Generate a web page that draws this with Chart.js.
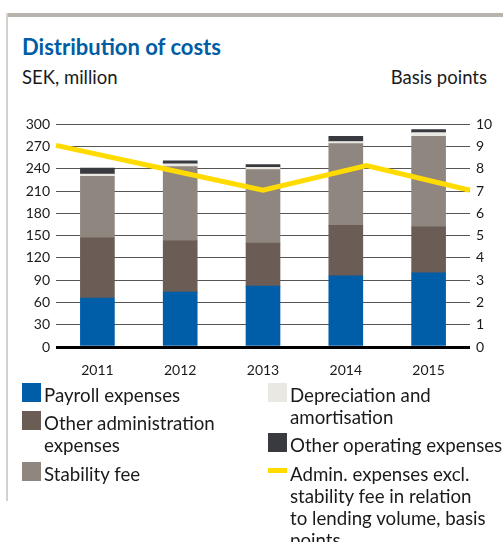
<!DOCTYPE html>
<html>
<head>
<meta charset="utf-8">
<script src="https://cdn.jsdelivr.net/npm/chart.js@4.4.1/dist/chart.umd.min.js"></script>
<style>
  html, body { margin: 0; padding: 0; background: #fff; }
  body { width: 503px; height: 542px; position: relative; overflow: hidden; font-family: Lato, "Open Sans", sans-serif; color: #1a1a1a; }
  .topbar { position: absolute; left: 7px; top: 13px; width: 496px; height: 4px; background: #b8b3ad; }
  .leftbar { position: absolute; left: 6px; top: 13px; width: 2px; height: 488px; background: #d4d0cb; }
  .title { position: absolute; left: 22px; top: 33px; font-size: 22px; font-weight: 700; color: #005da4; }
  .unit { position: absolute; top: 66px; font-size: 18.5px; }
  .plot { position: absolute; left: 0; top: 110px; width: 503px; height: 265px; }
  .lg { position: absolute; font-size: 18.7px; line-height: 22px; white-space: nowrap; }
  .sw { position: absolute; width: 19px; height: 19px; }
</style>
</head>
<body>
<div class="topbar"></div>
<div class="leftbar"></div>
<div class="title">Distribution of costs</div>
<div class="unit" style="left:22px">SEK, million</div>
<div class="unit" style="right:16px">Basis points</div>
<div class="plot"><canvas id="bars"></canvas></div>
<div class="plot"><canvas id="line"></canvas></div>
<div id="legend"></div>
<script>
// Distribution of costs, SEK million (bars) and basis points (line).
const years = ['2011', '2012', '2013', '2014', '2015'];
const payroll = [66, 74, 82, 96, 100];
const otherAdmin = [81, 69, 58, 68, 62];
const stabilityFee = [83, 100, 99, 110, 122];
const depreciation = [3, 4, 3, 3, 5];
const otherOperating = [8, 4, 4, 7, 4];
const adminBasisPoints = [9, 8, 7, 8.1, 7];
const sekTicks = { min: 0, max: 300, step: 30 };
const bpTicks = { min: 0, max: 10, step: 1 };

const COLORS = {
    payroll: '#005da8',
    otherAdmin: '#6b5d55',
    stability: '#8f8680',
    depreciation: '#eae8e3',
    otherOperating: '#393940',
    line: '#ffdb00',
};

// Shared plot box: chart area runs x 56..470, y 13..237 inside the 503x265 canvas.
const AREA = { top: 13, left: 56, right: 33, bottom: 28 };
const tickFont = { family: 'Lato, "Open Sans", sans-serif', size: 14 };

const bar = (label, data, color) => ({
    label,
    data,
    backgroundColor: color,
    borderWidth: 0,
    stack: 'costs',
    barThickness: 34,
});

// Bars + both visible axes.
new Chart(document.getElementById('bars'), {
    type: 'bar',
    data: {
        labels: years,
        datasets: [
            bar('Payroll expenses', payroll, COLORS.payroll),
            bar('Other administration expenses', otherAdmin, COLORS.otherAdmin),
            bar('Stability fee', stabilityFee, COLORS.stability),
            bar('Depreciation and amortisation', depreciation, COLORS.depreciation),
            bar('Other operating expenses', otherOperating, COLORS.otherOperating),
        ],
    },
    options: {
        responsive: true,
        maintainAspectRatio: false,
        animation: false,
        layout: { padding: { top: AREA.top, left: 0, right: 0, bottom: 0 } },
        plugins: { legend: { display: false }, tooltip: { enabled: false } },
        scales: {
            x: {
                stacked: true,
                grid: { display: false },
                border: { display: false },
                ticks: { color: '#1a1a1a', font: tickFont, padding: 7 },
                afterFit: (s) => { s.height = AREA.bottom; },
            },
            y: {
                stacked: true,
                position: 'left',
                min: sekTicks.min,
                max: sekTicks.max,
                border: { display: false },
                grid: {
                    drawTicks: false,
                    color: (ctx) => (ctx.tick && ctx.tick.value === 0 ? '#000' : '#555'),
                    lineWidth: (ctx) => (ctx.tick && ctx.tick.value === 0 ? 3 : 1),
                },
                ticks: { stepSize: sekTicks.step, color: '#1a1a1a', font: tickFont, padding: 6 },
                afterFit: (s) => { s.width = AREA.left; },
            },
            y2: {
                position: 'right',
                min: bpTicks.min,
                max: bpTicks.max,
                border: { display: false },
                grid: { display: false, drawTicks: false },
                ticks: { stepSize: bpTicks.step, color: '#1a1a1a', font: tickFont, padding: 6 },
                afterFit: (s) => { s.width = AREA.right; },
            },
        },
    },
});

// The basis-point line runs edge to edge of the plot (no category offset),
// so it sits on its own transparent chart over the bars with the same box.
new Chart(document.getElementById('line'), {
    type: 'line',
    data: {
        labels: years,
        datasets: [
            {
                label: 'Admin. expenses excl. stability fee in relation to lending volume, basis points',
                data: adminBasisPoints,
                borderColor: COLORS.line,
                borderWidth: 5,
                borderCapStyle: 'butt',
                pointRadius: 0,
                tension: 0,
            },
        ],
    },
    options: {
        responsive: true,
        maintainAspectRatio: false,
        animation: false,
        layout: { padding: AREA },
        plugins: { legend: { display: false }, tooltip: { enabled: false } },
        scales: {
            x: { display: false, offset: false },
            y: { display: false, min: bpTicks.min, max: bpTicks.max },
        },
    },
});

// HTML legend, two columns as in the printed report
const legendItems = [
    { x: 22, y: 383, kind: 'box', color: COLORS.payroll, lines: ['Payroll expenses'] },
    { x: 22, y: 411, kind: 'box', color: COLORS.otherAdmin, lines: ['Other administration', 'expenses'] },
    { x: 22, y: 462, kind: 'box', color: COLORS.stability, lines: ['Stability fee'] },
    { x: 268, y: 383, kind: 'box', color: COLORS.depreciation, lines: ['Depreciation and', 'amortisation'] },
    { x: 268, y: 433, kind: 'box', color: COLORS.otherOperating, lines: ['Other operating expenses'] },
    { x: 268, y: 462, kind: 'line', color: COLORS.line,
      lines: ['Admin. expenses excl.', 'stability fee in relation', 'to lending volume, basis', 'points'] },
];

const legend = document.getElementById('legend');
legendItems.forEach((it) => {
    const sw = document.createElement('div');
    sw.className = 'sw';
    sw.style.left = it.x + 'px';
    if (it.kind === 'line') {
        sw.style.top = (it.y + 6) + 'px';
        sw.style.height = '5px';
    } else {
        sw.style.top = it.y + 'px';
    }
    sw.style.background = it.color;
    legend.appendChild(sw);

    const txt = document.createElement('div');
    txt.className = 'lg';
    txt.style.left = (it.x + 22) + 'px';
    txt.style.top = (it.y + 1) + 'px';
    txt.innerHTML = it.lines.join('<br>');
    legend.appendChild(txt);
});
</script>
</body>
</html>
